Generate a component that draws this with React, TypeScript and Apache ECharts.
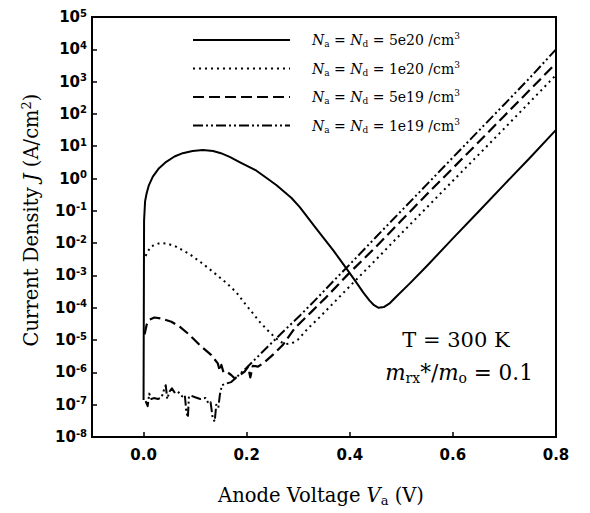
import React, { useEffect, useRef } from "react";
import * as echarts from "echarts";

// ---- data (x: anode voltage V, y: current density A/cm^2) ----
const xTickValues = [0, 0.2, 0.4, 0.6, 0.8];
const yTickExponents = [-8, -7, -6, -5, -4, -3, -2, -1, 0, 1, 2, 3, 4, 5];

const legendDoping = ["5e20", "1e20", "5e19", "1e19"];

const curve5e20: [number, number][] = [
  [0.0, 1.4e-7], [0.0005, 1e-4], [0.001, 0.05], [0.003, 0.2], [0.006, 0.35],
  [0.01, 0.6], [0.018, 1.15], [0.03, 2.1], [0.044, 3.3], [0.06, 4.8],
  [0.076, 6.1], [0.095, 7.1], [0.115, 7.6], [0.135, 7.1], [0.15, 6.1],
  [0.167, 4.7], [0.19, 3.0], [0.219, 1.75], [0.24, 1.0], [0.258, 0.62],
  [0.287, 0.25], [0.303, 0.13], [0.335, 0.028], [0.368, 6.0e-3], [0.394, 1.6e-3],
  [0.413, 6e-4], [0.426, 3e-4], [0.438, 1.7e-4], [0.447, 1.2e-4], [0.456, 1.0e-4],
  [0.466, 1.05e-4], [0.478, 1.4e-4], [0.49, 2.2e-4], [0.517, 5.8e-4], [0.55, 2e-3],
  [0.6, 1.4e-2], [0.65, 0.095], [0.7, 0.66], [0.75, 4.5], [0.8, 32],
];

const curve1e20: [number, number][] = [
  [0.004, 4e-3], [0.008, 5.5e-3], [0.015, 8e-3], [0.031, 1.0e-2], [0.045, 9.8e-3],
  [0.063, 7.8e-3], [0.09, 4.5e-3], [0.115, 2.3e-3], [0.14, 1.1e-3], [0.161, 5.8e-4],
  [0.18, 3e-4], [0.196, 1.4e-4], [0.225, 3.7e-5], [0.245, 1.7e-5], [0.264, 9e-6],
  [0.276, 7.5e-6], [0.288, 8e-6], [0.3, 1.05e-5], [0.319, 2.3e-5], [0.342, 5.2e-5],
  [0.375, 1.8e-4], [0.406, 5.8e-4], [0.45, 3e-3], [0.5, 2e-2], [0.55, 0.13],
  [0.6, 0.85], [0.65, 5.5], [0.7, 36], [0.75, 240], [0.8, 1600],
];

const curve5e19: [number, number][] = [
  [0.002, 1.5e-5], [0.006, 3e-5], [0.012, 4.3e-5], [0.021, 5e-5], [0.035, 4.6e-5],
  [0.054, 3.7e-5], [0.07, 2.6e-5], [0.086, 1.6e-5], [0.109, 7e-6], [0.131, 3.5e-6],
  [0.144, 1.9e-6], [0.148, 1.1e-6], [0.151, 1.7e-6], [0.155, 1.0e-6], [0.163, 1.0e-6],
  [0.17, 8.3e-7], [0.177, 6.5e-7], [0.186, 8e-7], [0.196, 1.05e-6], [0.203, 1.5e-6],
  [0.207, 7e-7], [0.212, 1.6e-6], [0.222, 1.5e-6], [0.235, 2.1e-6], [0.254, 3.9e-6],
  [0.27, 7e-6], [0.293, 2.3e-5], [0.326, 7.6e-5], [0.352, 1.95e-4], [0.397, 1.1e-3],
  [0.45, 7.5e-3], [0.5, 5e-2], [0.55, 0.33], [0.6, 2.1], [0.65, 13.5],
  [0.7, 88], [0.75, 570], [0.8, 3700],
];

const curve1e19: [number, number][] = [
  [0.004, 1.3e-7], [0.008, 9e-8], [0.011, 2.2e-7], [0.015, 1.5e-7], [0.02, 1.6e-7],
  [0.028, 1.5e-7], [0.035, 1.7e-7], [0.04, 3e-7], [0.043, 4e-7], [0.046, 1.5e-7],
  [0.05, 2.5e-7], [0.055, 3.2e-7], [0.06, 2.4e-7], [0.066, 2.6e-7], [0.075, 1.8e-7],
  [0.08, 2e-7], [0.083, 6e-8], [0.086, 4e-8], [0.088, 1.8e-7], [0.092, 1.9e-7],
  [0.1, 1.7e-7], [0.11, 1.5e-7], [0.12, 1.6e-7], [0.126, 1.1e-7], [0.13, 1.2e-7],
  [0.134, 4e-8], [0.138, 3e-8], [0.141, 1e-7], [0.145, 8e-8], [0.148, 2e-7],
  [0.152, 4e-7], [0.16, 4.5e-7], [0.17, 5e-7], [0.18, 7e-7], [0.2, 1.4e-6],
  [0.228, 3.9e-6], [0.267, 1.6e-5], [0.304, 5.9e-5], [0.332, 1.66e-4], [0.369, 6.9e-4],
  [0.4, 2.2e-3], [0.45, 1.5e-2], [0.5, 0.1], [0.55, 0.67], [0.6, 4.5],
  [0.65, 30], [0.7, 200], [0.75, 1.35e3], [0.8, 1e4],
];

// ---- styles ----
const SERIF = "'DejaVu Serif', serif";
const SANS = "'DejaVu Sans', sans-serif";

const lineStyles = [
  { width: 2, type: "solid" as any, dash: null as number[] | null },
  { width: 2, type: [2, 4] as any, dash: [2, 4] },
  { width: 2.2, type: [11, 5] as any, dash: [11, 5] },
  { width: 2, type: [10, 3, 2, 3, 2, 3] as any, dash: [10, 3, 2, 3, 2, 3] },
];

function richSerif(size: number) {
  const lh = Math.round(size * 1.2);
  const small = Math.round(size * 0.66);
  const slh = Math.round(size * 0.75);
  return {
    t: { fontFamily: SERIF, fontSize: size, lineHeight: lh, fill: "#000" },
    i: { fontFamily: SERIF, fontSize: size, fontStyle: "italic", lineHeight: lh, fill: "#000" },
    s: { fontFamily: SERIF, fontSize: small, lineHeight: slh, verticalAlign: "bottom", fill: "#000" },
    p: { fontFamily: SERIF, fontSize: small, lineHeight: slh, verticalAlign: "top", fill: "#000" },
  };
}

export default function App() {
  const ref = useRef<HTMLDivElement>(null);

  useEffect(() => {
    if (!ref.current) return;
    document.body.style.margin = "0";
    const chart = echarts.init(ref.current, null, { renderer: "svg" });

    const curves = [curve5e20, curve1e20, curve5e19, curve1e19];
    const series = curves.map((c, k) => ({
      type: "line",
      name: legendDoping[k],
      data: c,
      showSymbol: false,
      symbol: "none",
      smooth: false,
      z: 10 - k,
      lineStyle: { color: "#000", width: lineStyles[k].width, type: lineStyles[k].type, cap: "butt", join: "round" },
    }));

    const yTickValues = yTickExponents.map((e) => Math.pow(10, e));

    const legendRowsY = [40, 68.5, 97, 125.5];
    const legendGraphics: any[] = [];
    legendDoping.forEach((d, k) => {
      const y = legendRowsY[k];
      legendGraphics.push({
        type: "line",
        shape: { x1: 193, y1: y, x2: 290, y2: y },
        style: {
          stroke: "#000",
          lineWidth: lineStyles[k].width,
          lineDash: lineStyles[k].dash || undefined,
          lineCap: "butt",
        },
      });
      legendGraphics.push({
        type: "text",
        x: 312,
        y: y,
        style: {
          text: `{i|N}{s|a}{t| = }{i|N}{s|d}{t| = ${d} /cm}{p|3}`,
          rich: richSerif(14),
          align: "left",
          verticalAlign: "middle",
          fill: "#000",
        },
      });
    });

    const option: any = {
      animation: false,
      backgroundColor: "#fff",
      grid: {
        left: 92,
        right: 34,
        top: 17,
        bottom: 76,
        show: true,
        borderColor: "#000",
        borderWidth: 2,
        backgroundColor: "transparent",
        containLabel: false,
        outerBoundsMode: "none",
      },
      xAxis: {
        type: "value",
        min: -0.1,
        max: 0.8,
        axisLine: { show: true, onZero: false, lineStyle: { color: "#000", width: 2 } },
        axisTick: { show: true, inside: true, length: 5, customValues: xTickValues, lineStyle: { color: "#000", width: 1.5 } },
        axisLabel: {
          customValues: xTickValues,
          margin: 10,
          color: "#000",
          fontFamily: SANS,
          fontWeight: "bold",
          fontSize: 15,
          formatter: (v: number) => v.toFixed(1),
        },
        splitLine: { show: false },
      },
      yAxis: {
        type: "log",
        logBase: 10,
        min: yTickValues[0],
        max: yTickValues[yTickValues.length - 1],
        axisLine: { show: true, onZero: false, lineStyle: { color: "#000", width: 2 } },
        axisTick: { show: true, inside: true, length: 5, customValues: yTickValues, lineStyle: { color: "#000", width: 1.5 } },
        minorTick: { show: false },
        axisLabel: {
          customValues: yTickValues,
          margin: 5,
          color: "#000",
          formatter: (v: number) => {
            const e = Math.round(Math.log10(v));
            return `{b|10}{s|${e}}`;
          },
          rich: {
            b: { fontFamily: SANS, fontWeight: "bold", fontSize: 15, lineHeight: 18, color: "#000" },
            s: { fontFamily: SANS, fontWeight: "bold", fontSize: 10, lineHeight: 11, verticalAlign: "top", color: "#000" },
          },
        },
        splitLine: { show: false },
      },
      series,
      graphic: [
        ...legendGraphics,
        {
          type: "text",
          x: 31,
          y: 220,
          rotation: Math.PI / 2,
          style: {
            text: "{t|Current Density }{i|J}{t| (A/cm}{p|2}{t|)}",
            rich: richSerif(19.5),
            align: "center",
            verticalAlign: "middle",
            fill: "#000",
          },
        },
        {
          type: "text",
          x: 321,
          y: 495,
          style: {
            text: "{t|Anode Voltage }{i|V}{s|a}{t| (V)}",
            rich: richSerif(19.5),
            align: "center",
            verticalAlign: "middle",
            fill: "#000",
          },
        },
        {
          type: "text",
          x: 456,
          y: 340,
          style: {
            text: "{t|T = 300 K}",
            rich: richSerif(21),
            align: "center",
            verticalAlign: "middle",
            fill: "#000",
          },
        },
        {
          type: "text",
          x: 459,
          y: 372,
          style: {
            text: "{i|m}{s|rx}{t|*/}{i|m}{s|o}{t| = 0.1}",
            rich: richSerif(21.5),
            align: "center",
            verticalAlign: "middle",
            fill: "#000",
          },
        },
      ],
    };

    chart.setOption(option);
    return () => chart.dispose();
  }, []);

  return (
    <div
      ref={ref}
      style={{ position: "fixed", left: 0, top: 0, width: 590, height: 513, background: "#fff" }}
    />
  );
}
